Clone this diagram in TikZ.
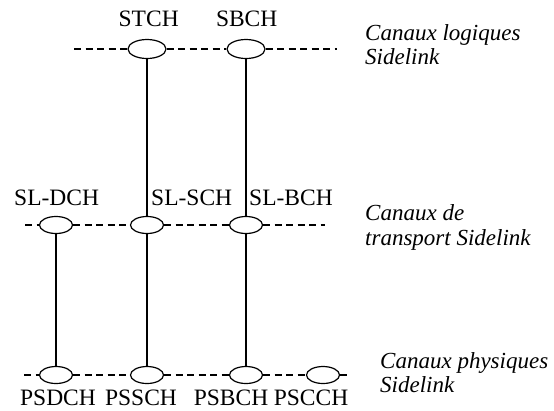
\documentclass[tikz,border=0pt]{standalone}
\usepackage{fontspec}
\setmainfont{Liberation Serif}
\usetikzlibrary{shapes.geometric}
\begin{document}
\begin{tikzpicture}[x=1pt,y=-1pt,
  chan/.style={draw,ellipse,inner sep=0pt,minimum width=33pt,minimum height=17pt,line width=1.2pt},
  bigchan/.style={chan,minimum width=38pt,minimum height=19pt},
  dashline/.style={line width=1.2pt,dash pattern=on 7pt off 4.5pt},
  link/.style={line width=1.1pt},
  lbl/.style={inner sep=0pt,font=\fontsize{23.5}{24.5}\selectfont},
  layer/.style={lbl,align=left,anchor=north west,font=\fontsize{23}{24.5}\selectfont\itshape}]
\useasboundingbox (0,0) rectangle (554,410);
% top layer
\coordinate (tl) at (74,49);
\coordinate (tr) at (337,49);
\node[bigchan] (t1) at (147,49) {};
\node[bigchan] (t2) at (246,49) {};
\draw[dashline] (tl) -- (t1);
\draw[dashline] (t1) -- (t2);
\draw[dashline] (t2) -- (tr);
% middle layer
\coordinate (ml) at (25,225);
\coordinate (mr) at (325,225);
\node[chan] (m1) at (56,225) {};
\node[chan] (m2) at (147,225) {};
\node[chan] (m3) at (246,225) {};
\draw[dashline] (ml) -- (m1);
\draw[dashline] (m1) -- (m2);
\draw[dashline] (m2) -- (m3);
\draw[dashline] (m3) -- (mr);
% bottom layer
\coordinate (bl) at (24,375);
\coordinate (br) at (347,375);
\node[chan] (b1) at (56,375) {};
\node[chan] (b2) at (147,375) {};
\node[chan] (b3) at (246,375) {};
\node[chan] (b4) at (323,375) {};
\draw[dashline] (bl) -- (b1);
\draw[dashline] (b1) -- (b2);
\draw[dashline] (b2) -- (b3);
\draw[dashline] (b3) -- (b4);
\draw[dashline] (b4) -- (br);
% vertical links
\draw[link] (t1.south) -- (m2.north);
\draw[link] (t2.south) -- (m3.north);
\draw[link] (m1.south) -- (b1.north);
\draw[link] (m2.south) -- (b2.north);
\draw[link] (m3.south) -- (b3.north);
% channel labels
\node[lbl,anchor=base] (lstch) at (148.7,26.7) {STCH};
\node[lbl,anchor=base] (lsbch) at (246.7,26.7) {SBCH};
\node[lbl,anchor=base west] (lsldch) at (14,205) {SL-DCH};
\node[lbl,anchor=base west] (lslsch) at (151,205) {SL-SCH};
\node[lbl,anchor=base west] (lslbch) at (249,205) {SL-BCH};
\node[lbl,anchor=base] (lpsdch) at (58,405) {PSDCH};
\node[lbl,anchor=base] (lpssch) at (141,405) {PSSCH};
\node[lbl,anchor=base] (lpsbch) at (231,405) {PSBCH};
\node[lbl,anchor=base] (lpscch) at (311,405) {PSCCH};
% layer labels
\node[layer] (logical) at (365,24.3) {Canaux logiques\\Sidelink};
\node[layer] (transport) at (365,204.8) {Canaux de\\transport Sidelink};
\node[layer] (physical) at (380,352.3) {Canaux physiques\\Sidelink};
\end{tikzpicture}
\end{document}
